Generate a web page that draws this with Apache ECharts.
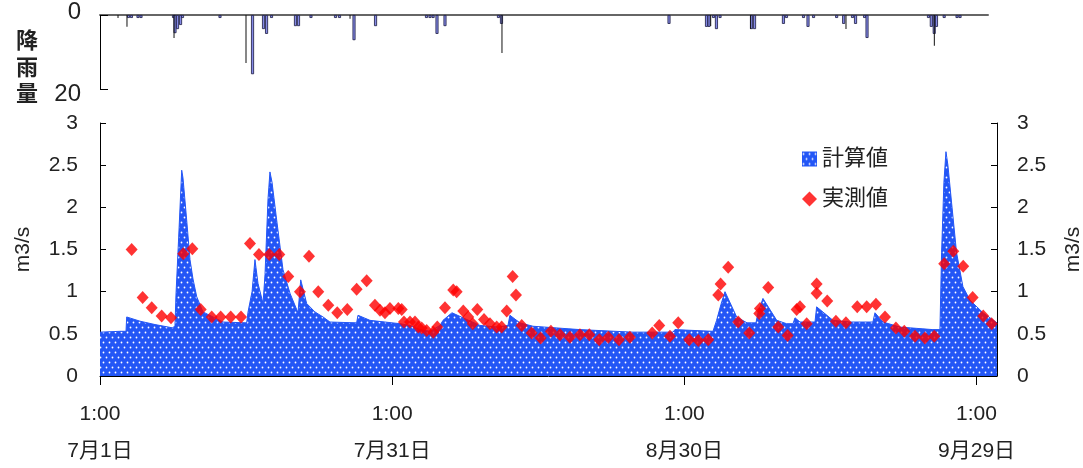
<!DOCTYPE html>
<html>
<head>
<meta charset="utf-8">
<script src="https://cdn.jsdelivr.net/npm/echarts@6/dist/echarts.min.js"></script>
<style>
html,body{margin:0;padding:0;background:#fff;}
#chart{width:1083px;height:468px;}
</style>
</head>
<body>
<div id="chart"></div>
<script>
// ---- data (x in days from 7/1 1:00) ----
const xTickDays = [0, 30, 60, 90];
const xTickLabels = ['1:00\n7月1日', '1:00\n7月31日', '1:00\n8月30日', '1:00\n9月29日'];

// calculated discharge (計算値), m3/s
const calcDays = [0,2.05,2.67,2.74,4.11,5.65,7.49,7.70,7.80,8.06,8.39,8.52,8.90,9.24,9.55,9.93,10.57,11.60,12.63,15.06,15.20,15.61,15.91,16.22,16.74,16.94,17.25,17.45,17.66,18.14,18.79,19.51,20.33,20.61,21.22,22.07,22.90,23.61,26.35,26.49,27.72,29.26,30.80,31.83,32.85,33.88,34.91,35.22,36.14,37.47,39.01,40.86,41.89,42.09,43.12,44.46,49.28,54.72,58.83,59.03,62.94,63.31,63.76,64.17,65.37,66.43,67.35,67.56,68.07,69.48,70.50,71.15,71.36,71.87,73.41,73.58,75.26,77.00,79.36,79.57,80.39,82.14,85.52,86.24,86.41,86.65,86.86,87.06,87.44,87.95,88.60,89.32,90.66,92.1];
const calcValues = [0.52,0.53,0.53,0.70,0.65,0.61,0.57,0.60,0.96,1.60,2.44,2.35,1.85,1.38,1.15,0.94,0.76,0.70,0.64,0.63,0.76,1.00,1.38,1.10,0.86,1.20,2.10,2.42,2.30,1.85,1.26,0.98,0.75,1.14,0.86,0.76,0.70,0.64,0.63,0.72,0.66,0.64,0.62,0.60,0.55,0.53,0.60,0.66,0.75,0.68,0.60,0.58,0.60,0.72,0.63,0.59,0.55,0.52,0.52,0.55,0.53,0.66,0.85,1.00,0.70,0.63,0.63,0.75,0.92,0.66,0.62,0.62,0.69,0.64,0.64,0.82,0.66,0.64,0.64,0.75,0.64,0.58,0.55,0.55,1.46,2.30,2.66,2.50,2.05,1.46,1.06,0.90,0.75,0.63];

// observed discharge (実測値), m3/s
const obsDays = [3.25,4.38,5.31,6.33,7.29,8.55,9.48,10.34,11.47,12.39,13.42,14.48,15.40,16.32,17.38,18.41,19.33,20.53,21.46,22.41,23.44,24.36,25.39,26.35,27.38,28.23,28.75,29.26,29.77,30.63,30.98,31.21,31.83,32.34,32.68,33.03,33.54,34.22,34.63,35.42,36.27,36.62,37.30,37.81,38.27,38.74,39.43,40.04,40.73,41.24,41.76,42.37,42.71,43.30,44.32,45.25,46.30,47.23,48.25,49.28,50.24,51.26,52.19,53.29,54.41,56.70,57.42,58.52,59.37,60.50,61.43,62.45,63.48,63.72,64.50,65.53,66.66,67.69,67.76,68.61,69.64,70.60,71.53,71.87,72.56,73.58,73.58,74.67,75.56,76.59,77.75,78.72,79.67,80.60,81.72,82.58,83.68,84.70,85.66,86.68,87.61,88.63,89.60,90.69,91.55];
const obsValues = [1.50,0.93,0.81,0.71,0.69,1.45,1.51,0.79,0.70,0.70,0.70,0.70,1.57,1.44,1.44,1.44,1.18,1.00,1.42,1.00,0.84,0.75,0.79,1.03,1.13,0.84,0.78,0.75,0.80,0.80,0.79,0.64,0.64,0.64,0.58,0.57,0.54,0.52,0.58,0.81,1.02,1.00,0.77,0.70,0.62,0.79,0.67,0.62,0.58,0.58,0.77,1.18,0.96,0.60,0.51,0.45,0.53,0.49,0.46,0.49,0.49,0.43,0.46,0.43,0.46,0.51,0.60,0.47,0.63,0.43,0.42,0.43,0.96,1.09,1.29,0.64,0.51,0.74,0.80,1.05,0.58,0.48,0.79,0.82,0.62,1.09,0.98,0.89,0.65,0.63,0.82,0.82,0.85,0.70,0.57,0.53,0.47,0.45,0.47,1.33,1.48,1.30,0.93,0.71,0.62];

// rainfall (降雨量), mm
const rainDays = [2.93,3.23,3.90,4.21,7.55,7.70,7.96,8.27,8.47,12.32,15.66,16.79,17.10,17.61,20.07,20.38,21.66,24.18,24.59,26.08,28.29,33.52,33.88,34.20,34.60,35.42,40.91,41.22,58.42,62.27,62.53,62.99,63.29,63.66,66.89,67.20,70.17,70.48,72.23,72.69,73.26,75.63,76.35,77.26,77.57,78.50,78.75,85.06,85.35,85.65,85.88,86.67,87.99,88.30];
const rainValues = [0.8,0.8,0.8,0.8,0.8,4.9,3.8,2.7,0.8,0.8,16,3.8,5.1,0.8,3.0,3.0,0.8,0.8,0.8,6.8,3.0,0.8,0.8,0.8,5.1,3.0,0.8,2.4,2.4,3.2,3.2,0.8,3.8,0.8,3.8,3.8,2.4,0.8,0.8,3.2,0.8,0.8,2.4,0.8,2.4,0.8,6.2,0.8,3.2,5.1,3.2,0.8,0.8,0.8];
// thin rain traces
const rainLineDays = [1.85,2.77,7.60,14.99,25.67,41.27,62.70,66.80,76.59,85.66];
const rainLineValues = [0.8,3.2,6.2,13,1.0,10.3,3.0,3.8,3.8,8.3];

// ---- styles ----
const BLUE = '#2356f6';
const FONT = "'Liberation Sans', 'Noto Sans CJK JP', sans-serif";
const TXT = '#222';

const pc = document.createElement('canvas');
pc.width = 6; pc.height = 10;
const cx = pc.getContext('2d');
cx.fillStyle = BLUE; cx.fillRect(0, 0, 6, 10);
cx.fillStyle = '#ffffff';
cx.beginPath(); cx.arc(1.5, 2.5, 0.9, 0, Math.PI * 2); cx.fill();
cx.beginPath(); cx.arc(4.5, 7.5, 0.9, 0, Math.PI * 2); cx.fill();
const pattern = { image: pc, repeat: 'repeat' };

const zip = (a, b) => a.map((v, i) => [v, b[i]]);

const chart = echarts.init(document.getElementById('chart'), null, { renderer: 'canvas' });
chart.setOption({
  animation: false,
  textStyle: { fontFamily: FONT, color: TXT },
  grid: [
    { left: 100, right: 86, top: 123, bottom: 92, outerBoundsMode: 'none', containLabel: false },
    { left: 100, right: 95, top: 15, bottom: 379, outerBoundsMode: 'none', containLabel: false }
  ],
  legend: {
    orient: 'vertical', left: 797, top: 143, itemGap: 18,
    itemWidth: 15, itemHeight: 15,
    textStyle: { fontSize: 22, color: TXT, fontFamily: FONT },
    data: [
      { name: '計算値', icon: 'rect', itemStyle: { color: pattern } },
      { name: '実測値', icon: 'diamond', itemStyle: { color: '#ff0000' } }
    ]
  },
  graphic: [{
    type: 'text', left: 16, top: 29,
    style: { text: '降\n雨\n量', font: 'bold 22px ' + FONT, lineHeight: 26.5, fill: TXT }
  }],
  xAxis: [
    {
      gridIndex: 0, type: 'value', min: 0, max: 92.1,
      splitLine: { show: false },
      axisLine: { lineStyle: { color: '#000', width: 1 } },
      axisTick: { customValues: xTickDays, length: 9, lineStyle: { color: '#000' } },
      axisLabel: {
        customValues: xTickDays, fontSize: 21, color: TXT, lineHeight: 37, margin: 20,
        formatter: v => xTickLabels[xTickDays.indexOf(v)] || ''
      }
    },
    {
      gridIndex: 1, type: 'value', min: 0, max: 91.17, position: 'top',
      splitLine: { show: false }, axisTick: { show: false }, axisLabel: { show: false },
      axisLine: { lineStyle: { color: '#666', width: 2 } }
    },
    {
      gridIndex: 1, type: 'value', min: 0, max: 91.17, show: false
    }
  ],
  yAxis: [
    {
      gridIndex: 0, type: 'value', min: 0, max: 3, interval: 0.5,
      name: 'm3/s', nameLocation: 'middle', nameRotate: 90, nameGap: 66,
      nameTextStyle: { fontSize: 21, color: TXT },
      splitLine: { show: false },
      axisLine: { show: true, lineStyle: { color: '#000' } },
      axisTick: { show: true, inside: true, length: 6, lineStyle: { color: '#000' } },
      axisLabel: { fontSize: 21, color: TXT, margin: 22 }
    },
    {
      gridIndex: 0, type: 'value', min: 0, max: 3, interval: 0.5, position: 'right',
      name: 'm3/s', nameLocation: 'middle', nameRotate: 90, nameGap: 66,
      nameTextStyle: { fontSize: 21, color: TXT },
      splitLine: { show: false },
      axisLine: { show: true, lineStyle: { color: '#000' } },
      axisTick: { show: true, inside: true, length: 6, lineStyle: { color: '#000' } },
      axisLabel: { fontSize: 21, color: TXT, margin: 20 }
    },
    {
      gridIndex: 1, type: 'value', min: 0, max: 20, interval: 20, inverse: true,
      splitLine: { show: false },
      axisLine: { show: true, lineStyle: { color: '#000' } },
      axisTick: { show: true, inside: true, length: 8, lineStyle: { color: '#000' } },
      axisLabel: {
        fontSize: 24, color: TXT, margin: 19,
        formatter: v => v === 0 ? '{a|0}' : '{b|' + v + '}',
        rich: {
          a: { fontSize: 24, color: TXT, padding: [0, 0, 6, 0] },
          b: { fontSize: 24, color: TXT, padding: [11, 0, 0, 0] }
        }
      }
    }
  ],
  series: [
    {
      name: '計算値', type: 'line', xAxisIndex: 0, yAxisIndex: 0,
      data: zip(calcDays, calcValues), showSymbol: false, symbol: 'none',
      lineStyle: { color: BLUE, width: 1 },
      itemStyle: { color: BLUE },
      areaStyle: { color: pattern, opacity: 1 },
      z: 2
    },
    {
      name: '実測値', type: 'scatter', xAxisIndex: 0, yAxisIndex: 0,
      data: zip(obsDays, obsValues), symbol: 'diamond', symbolSize: [12, 13],
      itemStyle: { color: '#ff0000' }, z: 3
    },
    {
      name: '降雨量', type: 'bar', xAxisIndex: 1, yAxisIndex: 2,
      data: zip(rainDays, rainValues), barWidth: 3,
      itemStyle: { color: '#8489e6', borderColor: '#1a1a40', borderWidth: 0.8 }
    },
    {
      name: '降雨量線', type: 'bar', xAxisIndex: 2, yAxisIndex: 2,
      data: zip(rainLineDays, rainLineValues), barWidth: 1,
      itemStyle: { color: '#111' }
    }
  ]
});
</script>
</body>
</html>
